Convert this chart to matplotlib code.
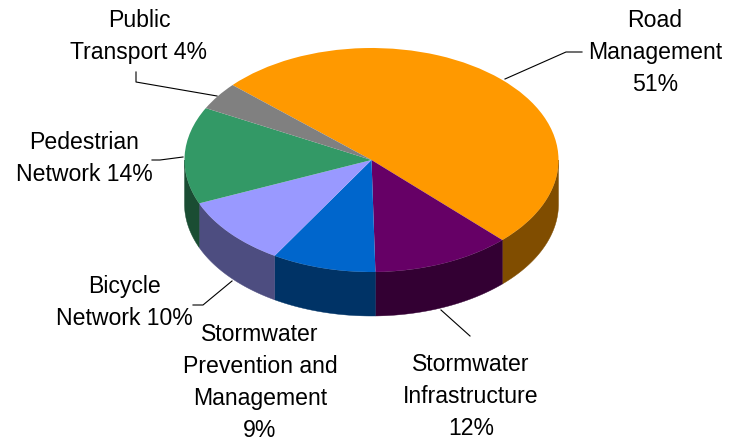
import matplotlib
matplotlib.use('Agg')
import matplotlib.pyplot as plt
import numpy as np

plt.rcParams['font.family'] = ['Liberation Sans', 'DejaVu Sans']

labels = ['Road\nManagement\n51%', 'Stormwater\nInfrastructure\n12%', 'Stormwater\nPrevention and\nManagement\n9%',
          'Bicycle\nNetwork 10%', 'Pedestrian\nNetwork 14%', 'Public\nTransport 4%']
values = [51, 12, 9, 10, 14, 4]
top_colors = ['#FF9900', '#660066', '#0066CC', '#9999FF', '#339966', '#808080']
side_colors = ['#804D00', '#330033', '#003366', '#4D4D80', '#1A4D33', '#404040']

W, H = 731, 440
CX, CY, RX, RY = 371.5, 160, 187, 112
DEPTH = 44 / RY
START = 138


def px(x, y):  # image pixels to data coords
    return (x - CX) / RX, (CY - y) / RY


# label centres and leader lines, in image pixels
label_pos = [(655, 52), (471, 396), (260, 382), (124, 302), (84, 158), (139, 36)]
leaders = [[(505, 79), (566, 52), (582, 52)],
           [(441, 310), (470, 336)],
           None,
           [(232, 281), (203, 305), (193, 305)],
           [(183, 157), (160, 160), (152, 160)],
           [(217, 96), (136, 82), (136, 72)]]

fig = plt.figure(figsize=(W / 100, H / 100), dpi=100)
ax = fig.add_axes([0, 0, 1, 1])

# side wall first, only the front half of the ellipse shows
angle = START
for val, col in zip(values, side_colors):
    a2 = angle
    a1 = angle - val * 3.6
    angle = a1
    for lo, hi in [(a1, a2), (a1 + 360, a2 + 360), (a1 - 360, a2 - 360)]:
        lo = max(lo, 180)
        hi = min(hi, 360)
        if hi <= lo:
            continue
        t = np.radians(np.linspace(lo, hi, 60))
        xs = np.concatenate([np.cos(t), np.cos(t[::-1])])
        ys = np.concatenate([np.sin(t), np.sin(t[::-1]) - DEPTH])
        ax.fill(xs, ys, color=col, lw=0.3, zorder=1)

wedges, _ = ax.pie(values, colors=top_colors, startangle=START, counterclock=False, radius=1,
                   wedgeprops={'linewidth': 0}, frame=False)
for w in wedges:
    w.set_zorder(2)

ax.set_aspect('auto')
ax.set_xlim(px(0, 0)[0], px(W, 0)[0])
ax.set_ylim(px(0, H)[1], px(0, 0)[1])
ax.axis('off')

for txt, pos, line in zip(labels, label_pos, leaders):
    x, y = px(*pos)
    ax.text(x, y, txt, ha='center', va='center', fontsize=16.6, linespacing=1.5, color='black', zorder=4)
    if line:
        pts = np.array([px(*p) for p in line])
        ax.plot(pts[:, 0], pts[:, 1], color='black', lw=0.8, zorder=3)

fig.savefig('out.png', dpi=100)
